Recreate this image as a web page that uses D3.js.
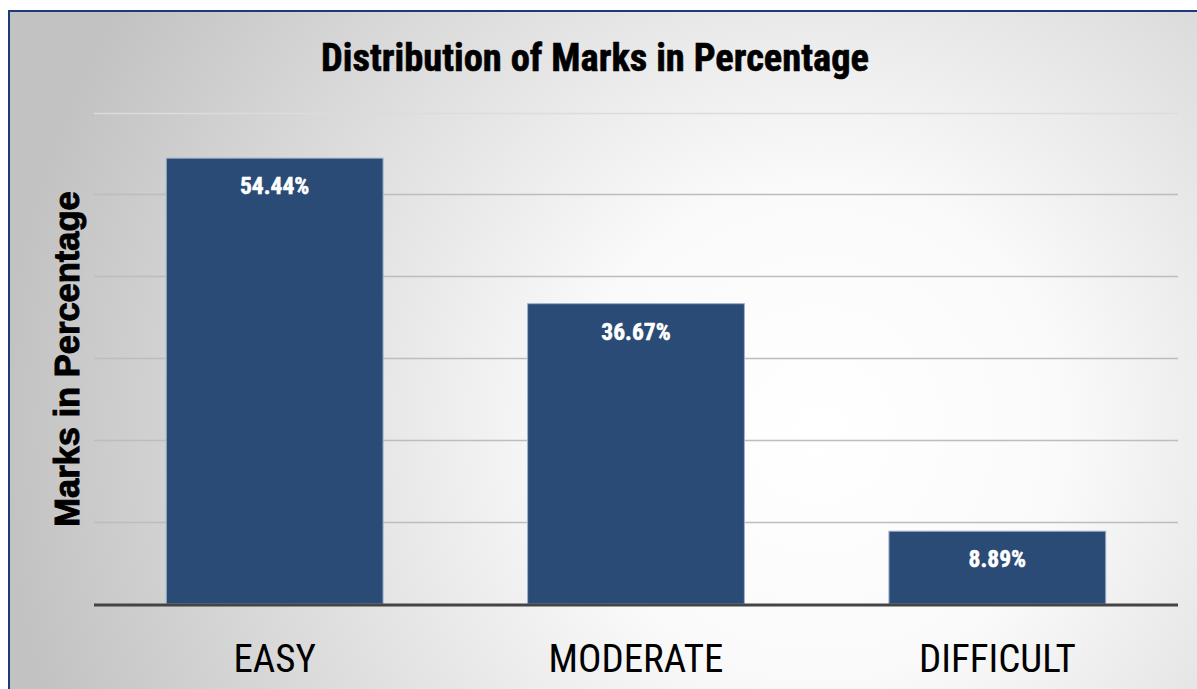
<!DOCTYPE html>
<html>
<head>
<meta charset="utf-8">
<script src="https://cdn.jsdelivr.net/npm/d3@7"></script>
<style>
  body { margin: 0; background: #fff; }
  svg { display: block; }
</style>
</head>
<body>
<div id="chart"></div>
<script>
// data
const categories = ["EASY", "MODERATE", "DIFFICULT"];
const marks = [54.44, 36.67, 8.89];
const yTicks = [0, 10, 20, 30, 40, 50, 60];

const W = 1197, H = 689;
const plot = { left: 94, right: 1178, top: 112.6, bottom: 604 };
const condensed = "'Liberation Sans Narrow', 'Roboto Condensed', 'DejaVu Sans Condensed', sans-serif";

const svg = d3.select("#chart").append("svg")
    .attr("width", W)
    .attr("height", H);

// background gradient
const defs = svg.append("defs");
const grad = defs.append("radialGradient")
    .attr("id", "bg")
    .attr("gradientUnits", "userSpaceOnUse")
    .attr("cx", 820).attr("cy", 430).attr("r", 820);
grad.append("stop").attr("offset", "0%").attr("stop-color", "#ffffff");
grad.append("stop").attr("offset", "30%").attr("stop-color", "#fafafa");
grad.append("stop").attr("offset", "100%").attr("stop-color", "#c2c2c2");

svg.append("rect")
    .attr("x", 9).attr("y", 11)
    .attr("width", W + 20).attr("height", H + 20)
    .attr("fill", "url(#bg)")
    .attr("stroke", "#1d3a7c")
    .attr("stroke-width", 2);

const x = d3.scaleBand()
    .domain(categories)
    .range([plot.left, plot.right])
    .paddingInner(0.4)
    .paddingOuter(0.2);

const y = d3.scaleLinear()
    .domain([0, 60])
    .range([plot.bottom, plot.top]);

// gridlines
svg.append("g")
    .selectAll("line")
    .data(yTicks.filter(d => d > 0))
    .enter()
    .append("line")
    .attr("x1", plot.left)
    .attr("x2", plot.right)
    .attr("y1", d => Math.round(y(d)) + 0.5)
    .attr("y2", d => Math.round(y(d)) + 0.5)
    .attr("stroke", d => d === 60 ? "#dcdcdc" : "#bdbdbd")
    .attr("stroke-width", 1.5);

// bars
svg.append("g")
    .selectAll("rect")
    .data(marks)
    .enter()
    .append("rect")
    .attr("x", (d, i) => x(categories[i]))
    .attr("width", x.bandwidth())
    .attr("y", d => y(d))
    .attr("height", d => y(0) - y(d))
    .attr("fill", "#2a4b76")
    .attr("stroke", "#9fb1c8")
    .attr("stroke-width", 1);

// value labels
svg.append("g")
    .selectAll("text")
    .data(marks)
    .enter()
    .append("text")
    .attr("x", (d, i) => x(categories[i]) + x.bandwidth() / 2)
    .attr("y", d => y(d) + 36)
    .attr("text-anchor", "middle")
    .attr("fill", "#ffffff")
    .attr("stroke", "#ffffff")
    .attr("stroke-width", 0.5)
    .style("font-family", condensed)
    .style("font-weight", "bold")
    .style("font-size", "23.5px")
    .text(d => d.toFixed(2) + "%");

// baseline
svg.append("line")
    .attr("x1", plot.left).attr("x2", plot.right)
    .attr("y1", y(0) + 1).attr("y2", y(0) + 1)
    .attr("stroke", "#444444")
    .attr("stroke-width", 3);

// x axis labels
const xAxis = d3.axisBottom(x).tickSize(0).tickPadding(0);
const gx = svg.append("g")
    .attr("transform", `translate(0,${plot.bottom})`)
    .call(xAxis);
gx.select(".domain").remove();
gx.selectAll("text")
    .attr("dy", 0)
    .attr("y", 68)
    .attr("fill", "#000")
    .style("font-family", condensed)
    .style("font-size", "39px");

// title
svg.append("text")
    .attr("x", 595)
    .attr("y", 71)
    .attr("text-anchor", "middle")
    .attr("stroke", "#000")
    .attr("stroke-width", 0.6)
    .style("font-family", condensed)
    .style("font-weight", "bold")
    .style("font-size", "38.5px")
    .text("Distribution of Marks in Percentage");

// y axis title
svg.append("text")
    .attr("transform", `translate(79,${359}) rotate(-90)`)
    .attr("text-anchor", "middle")
    .attr("stroke", "#000")
    .attr("stroke-width", 1)
    .style("font-family", "'Liberation Sans', Arial, sans-serif")
    .style("font-weight", "bold")
    .style("font-size", "34.5px")
    .text("Marks in Percentage");
</script>
</body>
</html>
